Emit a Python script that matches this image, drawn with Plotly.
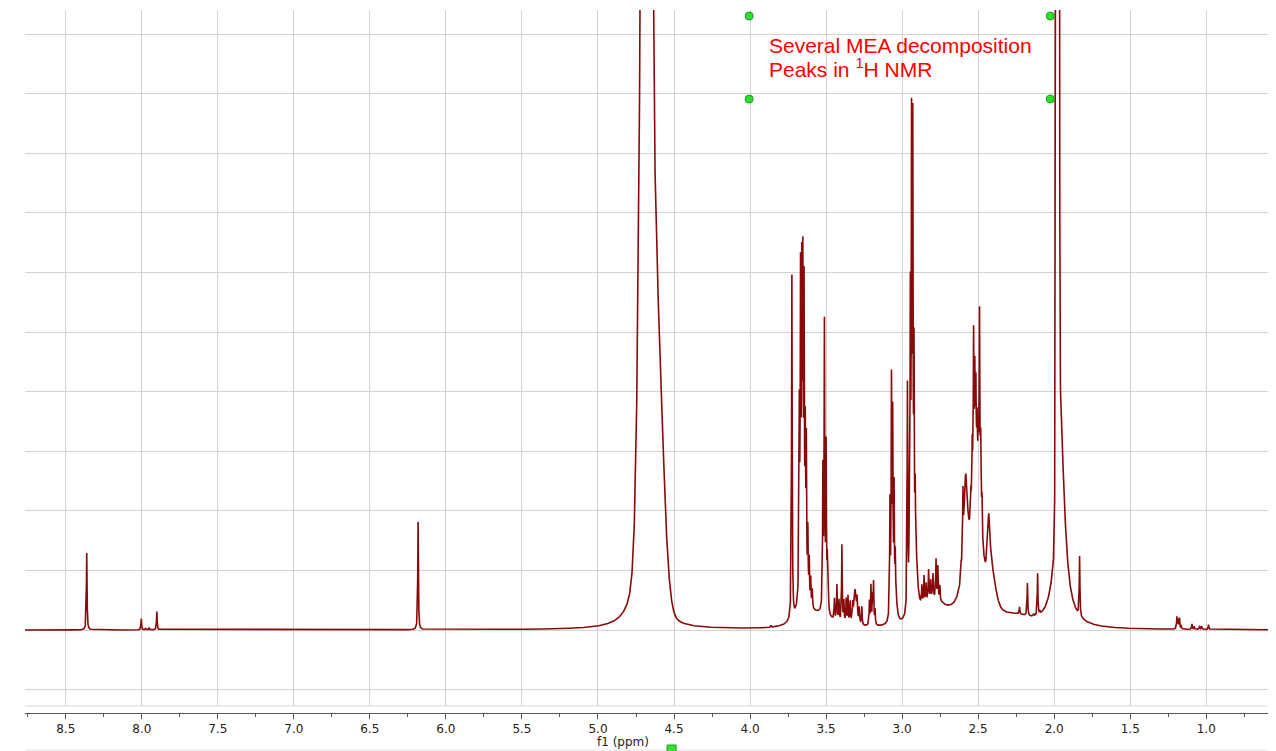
import numpy as np
import plotly.graph_objects as go

# ---------------- data ----------------
# Sharp (narrow Lorentzian) lines: chemical shift in ppm and height in grid units
sharp_ppm = [
    8.362, 8.003, 7.975, 7.952, 7.901,                      # aromatic region
    6.183,                                                   # 6.18 singlet
    4.5735,                                                  # notch on water peak
    3.862, 3.725,                                            # 3.9 - 3.7
    3.676, 3.668, 3.660, 3.653, 3.645, 3.637, 3.630, 3.620, 3.611, 3.601, 3.591,
    3.521, 3.511, 3.500, 3.492, 3.485,
    3.445, 3.429, 3.415, 3.396, 3.383, 3.368, 3.356, 3.342, 3.325,
    3.296, 3.282, 3.265, 3.215, 3.205, 3.195, 3.188, 3.178,
    3.080, 3.070, 3.062, 3.053, 3.045,
    2.965, 2.953, 2.946, 2.938, 2.930, 2.922, 2.914,
    2.870, 2.856, 2.842, 2.826, 2.812, 2.797, 2.777, 2.765, 2.752,
    2.612, 2.600, 2.548, 2.539, 2.530, 2.522, 2.515, 2.507, 2.499, 2.491, 2.483, 2.475,
    2.228, 2.176, 2.136, 2.109, 2.095,
    1.833,
    1.193, 1.185, 1.176, 1.165, 1.094, 1.080, 1.044, 1.030, 0.985,
]
sharp_height = [
    1.29, 0.19, 0.03, 0.04, 0.31,
    1.81,
    0.40,
    0.03, 5.78,
    3.0, 5.0, 4.8, 4.9, 4.7, 2.4, 2.4, 1.1, 0.7, 0.45, 0.3,
    2.3, 4.75, 2.7, 0.8, 0.3,
    0.35, 0.6, 0.35, 1.3, 0.35, 0.4, 0.45, 0.35, 0.25,
    0.3, 0.25, 0.3, 0.4, 0.65, 0.45, 0.7, 0.25,
    1.9, 3.85, 3.2, 2.0, 0.8,
    3.8, 1.0, 4.8, 7.5, 7.4, 3.6, 1.2,
    0.3, 0.45, 0.3, 0.5, 0.3, 0.4, 0.65, 0.55, 0.25,
    0.2, 1.0, 0.4, 0.9, 2.45, 1.6, 1.3, 0.8, 0.7, 3.05, 1.2, 0.6,
    0.12, 0.55, 0.04, 0.7, 0.05,
    1.0,
    0.2, 0.15, 0.18, 0.06, 0.09, 0.05, 0.06, 0.05, 0.08,
]
sharp_hwhm = 0.0024  # ppm

# Broad components: ppm, height, half width (ppm), Lorentzian fraction
broad_ppm = [4.6865, 4.6865, 4.6175, 3.655, 3.56, 3.309, 3.04, 2.908, 2.80,
             2.582, 2.512, 2.52, 2.43, 2.41, 2.24, 1.978, 1.9583]
broad_height = [13.1, 17.0, 4.5, 0.4, 0.22, 0.6, 0.3, 0.8, 0.4,
                1.85, 1.6, 0.9, 1.05, 0.5, 0.12, 50.0, 3.4]
broad_hwhm = [0.0359, 0.0197, 0.0503, 0.03, 0.12, 0.010, 0.01, 0.012, 0.09,
              0.016, 0.032, 0.09, 0.010, 0.03, 0.10, 0.0077, 0.0329]
broad_eta = [0.0, 1.0, 0.0, 1.0, 0.5, 1.0, 1.0, 1.0, 0.5,
             1.0, 0.0, 1.0, 1.0, 0.5, 0.5, 0.0, 1.0]

# axis window (ppm)
X_LEFT, X_RIGHT = 8.768, 0.594
Y_LOW, Y_HIGH = -1.275, 10.403

# ---------------- build spectrum from the peak list ----------------
grid = np.arange(X_RIGHT, X_LEFT, 0.0004)
ppm = np.unique(np.concatenate([grid, np.array(sharp_ppm), np.array(broad_ppm)]))
intensity = np.zeros_like(ppm)


def pvoigt(x, c, h, w, eta):
    u = (x - c) / w
    return h * (eta / (1.0 + u * u) + (1.0 - eta) * np.exp(-np.log(2.0) * u * u))


for c, h in zip(sharp_ppm, sharp_height):
    intensity += pvoigt(ppm, c, h, sharp_hwhm, 1.0)
for c, h, w, e in zip(broad_ppm, broad_height, broad_hwhm, broad_eta):
    intensity += pvoigt(ppm, c, h, w, e)

fig = go.Figure()
fig.add_trace(go.Scatter(
    x=ppm, y=intensity, mode="lines",
    line=dict(color="#880a0a", width=1.6),
    hoverinfo="skip", showlegend=False,
))

W, H = 1276, 751
ML, MR, MT, MB = 25, 8, 10, 38
plot_h = H - MT - MB
dom0 = 7.0 / plot_h

grid_col = "#d2d2d2"
axis_col = "#555555"


def xpaper(v):
    return (X_LEFT - v) / (X_LEFT - X_RIGHT)


def ypaper_px(py):
    # pixel row -> paper fraction
    return 1.0 - (py - MT) / plot_h


fig.update_layout(
    width=W, height=H,
    margin=dict(l=ML, r=MR, t=MT, b=MB, pad=0),
    paper_bgcolor="white", plot_bgcolor="white",
    showlegend=False,
    xaxis=dict(
        range=[X_LEFT, X_RIGHT], dtick=0.5, tick0=0, tickformat=".1f",
        showgrid=True, gridcolor=grid_col, gridwidth=1,
        zeroline=False, showline=True, linecolor=axis_col, linewidth=1,
        ticks="outside", ticklen=5, tickwidth=1, tickcolor=axis_col,
        minor=dict(dtick=0.25, tick0=0, ticks="outside", ticklen=3,
                   tickwidth=1, tickcolor=axis_col, showgrid=False),
        anchor="free", position=0,
        tickfont=dict(family="DejaVu Sans", size=12, color="#222222"),
    ),
    yaxis=dict(
        domain=[dom0, 1], range=[Y_LOW, Y_HIGH], dtick=1, tick0=0,
        showgrid=True, gridcolor=grid_col, gridwidth=1,
        zeroline=False, showline=False, showticklabels=False, ticks="",
    ),
    annotations=[
        dict(text="Several MEA decomposition", xref="paper", yref="paper",
             x=(767 - ML) / (W - ML - MR), y=ypaper_px(45), xanchor="left",
             yanchor="middle", showarrow=False,
             font=dict(family="Liberation Sans, Arial", size=21, color="#ff0000")),
        dict(text="Peaks in <sup>1</sup>H NMR", xref="paper", yref="paper",
             x=(767 - ML) / (W - ML - MR), y=ypaper_px(68), xanchor="left",
             yanchor="middle", showarrow=False,
             font=dict(family="Liberation Sans, Arial", size=21, color="#ff0000")),
        dict(text="f1 (ppm)", xref="paper", yref="paper",
             x=(623 - ML) / (W - ML - MR), y=ypaper_px(742), xanchor="center",
             yanchor="middle", showarrow=False,
             font=dict(family="DejaVu Sans", size=12, color="#222222")),
    ],
)

shapes = []
# light frame line at the bottom of the plotting box
shapes.append(dict(type="line", xref="paper", yref="paper", x0=0, x1=1,
                   y0=dom0, y1=dom0, line=dict(color="#d8d8d8", width=1), layer="below"))
# faint line at the bottom edge of the window
shapes.append(dict(type="line", xref="paper", yref="paper", x0=0, x1=1,
                   y0=ypaper_px(750), y1=ypaper_px(750), line=dict(color="#e4e4e4", width=1)))
# green selection handles of the text box
for hx in (4.006, 2.026):
    for hy in (16, 99):
        shapes.append(dict(type="circle", xref="paper", yref="paper",
                           xsizemode="pixel", ysizemode="pixel",
                           xanchor=xpaper(hx), yanchor=ypaper_px(hy),
                           x0=-4, x1=4, y0=-4, y1=4,
                           fillcolor="#2ee02e", line=dict(color="#1a9e1a", width=1)))
# green handle below the axis
shapes.append(dict(type="rect", xref="paper", yref="paper",
                   xsizemode="pixel", ysizemode="pixel",
                   xanchor=xpaper(4.516), yanchor=ypaper_px(745),
                   x0=-4.5, x1=4.5, y0=-10, y1=0,
                   fillcolor="#33e033", line=dict(color="#1a9e1a", width=1)))
fig.update_layout(shapes=shapes)

fig.write_html("out.html", config={"displayModeBar": False},
               post_script="document.body.style.margin='0px';")
